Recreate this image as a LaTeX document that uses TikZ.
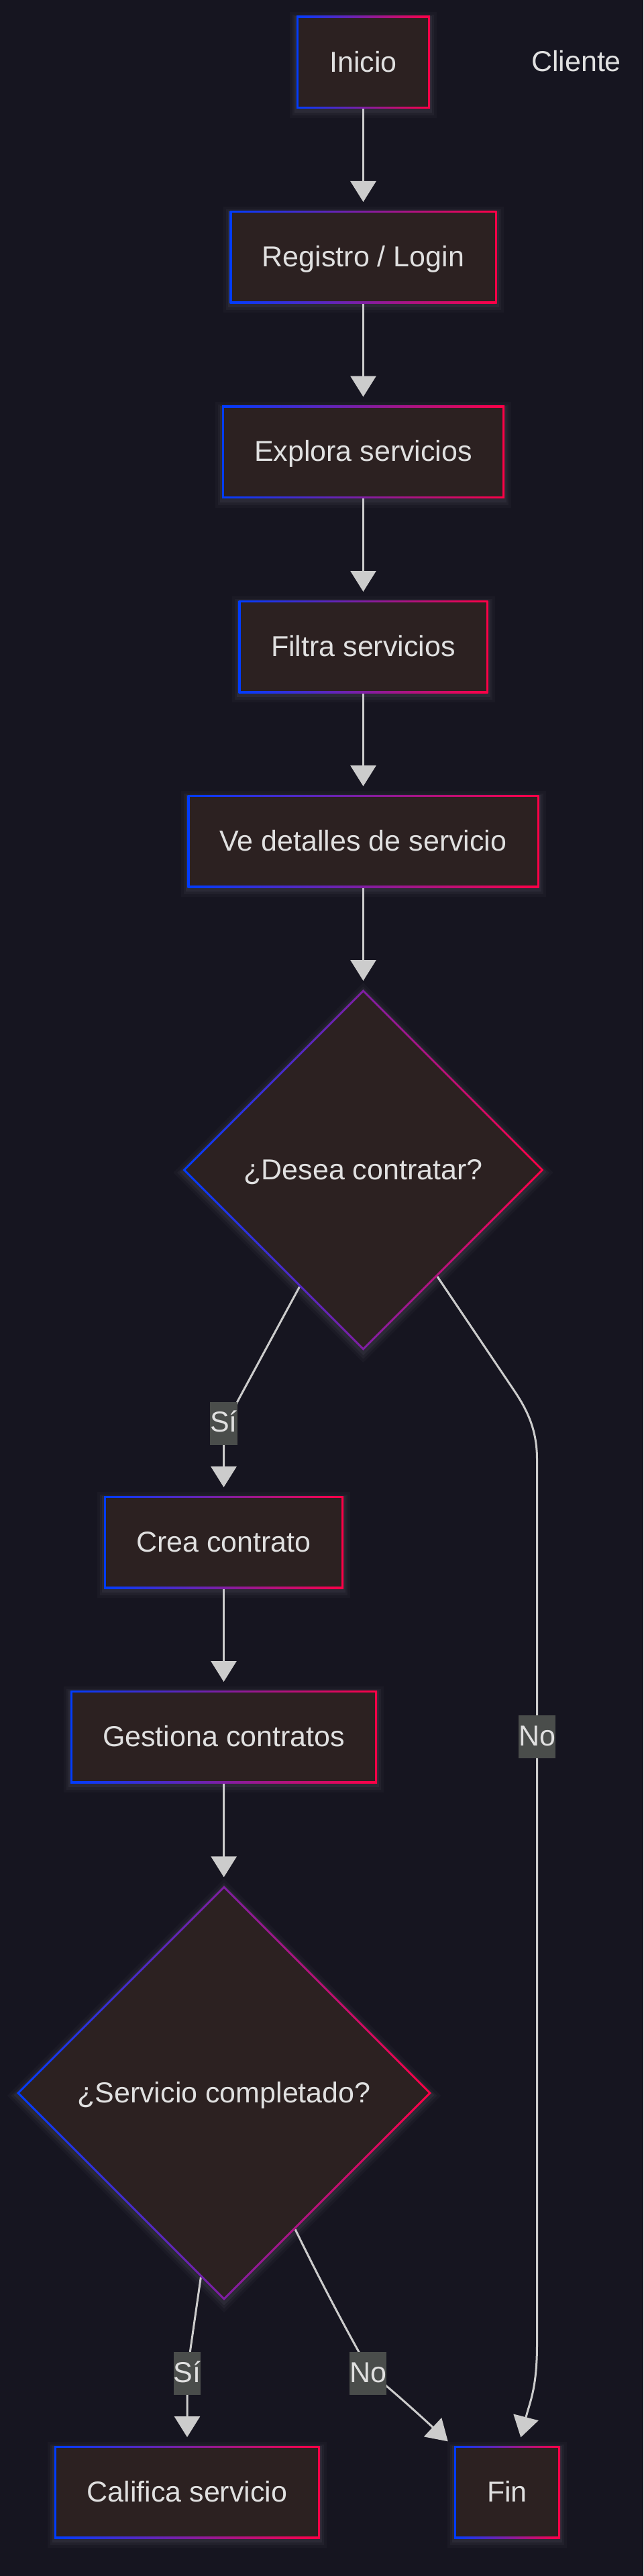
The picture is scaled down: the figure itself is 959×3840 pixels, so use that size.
\documentclass[tikz,border=0pt]{standalone}
\usepackage{fontspec}
\setmainfont{Liberation Sans}
\usetikzlibrary{arrows.meta,shapes.geometric,calc}
\pgfdeclarelayer{bglayer}
\pgfdeclarelayer{edgelayer}
\pgfsetlayers{bglayer,edgelayer,main}
\definecolor{bgc}{RGB}{22,21,32}
\definecolor{boxc}{RGB}{44,33,33}
\definecolor{gblue}{RGB}{0,60,255}
\definecolor{gred}{RGB}{255,0,70}
\definecolor{txtc}{RGB}{224,224,224}
\definecolor{linec}{RGB}{204,204,204}
\definecolor{lblc}{RGB}{74,77,75}
\definecolor{glowc}{RGB}{190,190,215}
\tikzset{
  txt/.style={text=txtc, font=\fontsize{43}{52}\selectfont, text height=28.6pt, text depth=0pt, outer sep=0pt},
  glow/.style={
    preaction={draw=glowc, draw opacity=0.03, line width=20pt, transform canvas={yshift=-4pt}},
    preaction={draw=glowc, draw opacity=0.045, line width=12pt, transform canvas={yshift=-4pt}},
    preaction={draw=glowc, draw opacity=0.06, line width=6pt, transform canvas={yshift=-3pt}}},
  stepbox/.style={txt, rectangle, glow, fill=boxc, inner sep=0pt, minimum height=138pt,
    path picture={
      \shade[left color=gblue, right color=gred] (path picture bounding box.south west) rectangle (path picture bounding box.north east);
      \fill[boxc] ([shift={(3pt,3pt)}]path picture bounding box.south west) rectangle ([shift={(-3pt,-3pt)}]path picture bounding box.north east);}},
  decide/.style={txt, diamond, aspect=1, glow, fill=boxc, inner sep=0pt,
    path picture={
      \shade[left color=gblue, right color=gred] (path picture bounding box.south west) rectangle (path picture bounding box.north east);
      \fill[boxc] ([yshift=-4.3pt]path picture bounding box.north) -- ([xshift=-4.3pt]path picture bounding box.east) -- ([yshift=4.3pt]path picture bounding box.south) -- ([xshift=4.3pt]path picture bounding box.west) -- cycle;}},
  lbl/.style={txt, rectangle, fill=lblc, inner xsep=0pt, inner ysep=0pt, minimum height=64pt, text height=26.6pt},
  lnk/.style={draw=linec, line width=3pt, -{Triangle[length=31pt,width=38pt]}},
  arr/.style={lnk, shorten >=13pt},
}
\begin{document}
\begin{tikzpicture}[x=1pt,y=-1pt]
\useasboundingbox (0,0) rectangle (959,3840);
\begin{pgfonlayer}{bglayer}
\fill[bgc] (0,0) rectangle (959,3840);
\end{pgfonlayer}

\node[stepbox, minimum width=199pt] (inicio) at (541.5,93) {Inicio};
\node[txt] (cliente) at (859,92) {Cliente};
\node[stepbox, minimum width=398pt] (registro) at (541.5,383) {Registro / Login};
\node[stepbox, minimum width=421pt] (explora) at (541.5,673.5) {Explora servicios};
\node[stepbox, minimum width=372pt] (filtra) at (541.5,964) {Filtra servicios};
\node[stepbox, minimum width=524pt] (detalles) at (541.5,1254) {Ve detalles de servicio};
\node[decide, minimum width=538pt, minimum height=538pt] (d1) at (541.5,1744) {¿Desea contratar?};
\node[stepbox, minimum width=357pt] (crea) at (333.5,2299) {Crea contrato};
\node[stepbox, minimum width=457pt] (gestiona) at (333.5,2589) {Gestiona contratos};
\node[decide, minimum width=618pt, minimum height=618pt] (d2) at (334,3120) {¿Servicio completado?};
\node[stepbox, minimum width=396pt] (califica) at (279,3715) {Califica servicio};
\node[stepbox, minimum width=158pt] (fin) at (756,3715) {Fin};

\node[lbl] (si1) at (333.5,2121.5) {Sí};
\node[lbl] (no1) at (800.5,2589) {No};
\node[lbl] (si2) at (279,3538) {Sí};
\node[lbl] (no2) at (548.5,3538) {No};

\begin{pgfonlayer}{edgelayer}
\draw[arr] (inicio) -- (registro);
\draw[arr] (registro) -- (explora);
\draw[arr] (explora) -- (filtra);
\draw[arr] (filtra) -- (detalles);
\draw[arr] (detalles) -- (d1);
\draw[arr] ($(d1.south)!0.353!(d1.west)$) -- (si1.north east) -- (si1.south) -- (crea);
\draw[lnk] ($(d1.south)!0.41!(d1.east)$) -- (764.5,2070) .. controls (785,2100) and (800.5,2130) .. (800.5,2175) -- (no1.north) -- (no1.south) -- (800.5,3495) .. controls (800.5,3560) and (790,3580) .. ([shift={(20.3,-12.7)}]fin.north);
\draw[arr] (crea) -- (gestiona);
\draw[arr] (gestiona) -- (d2);
\draw[arr] ($(d2.south)!0.112!(d2.west)$) -- ([xshift=4.3pt]si2.north) -- (si2.south) -- (califica);
\draw[lnk] ($(d2.south)!0.343!(d2.east)$) .. controls (480,3405) and (515,3470) .. ([xshift=-13.5pt]no2.north) -- ([yshift=-18.7pt]no2.east) .. controls (600,3577) and (632,3606) .. ([shift={(-9.3,-6.7)}]fin.north west);
\end{pgfonlayer}
\end{tikzpicture}
\end{document}
